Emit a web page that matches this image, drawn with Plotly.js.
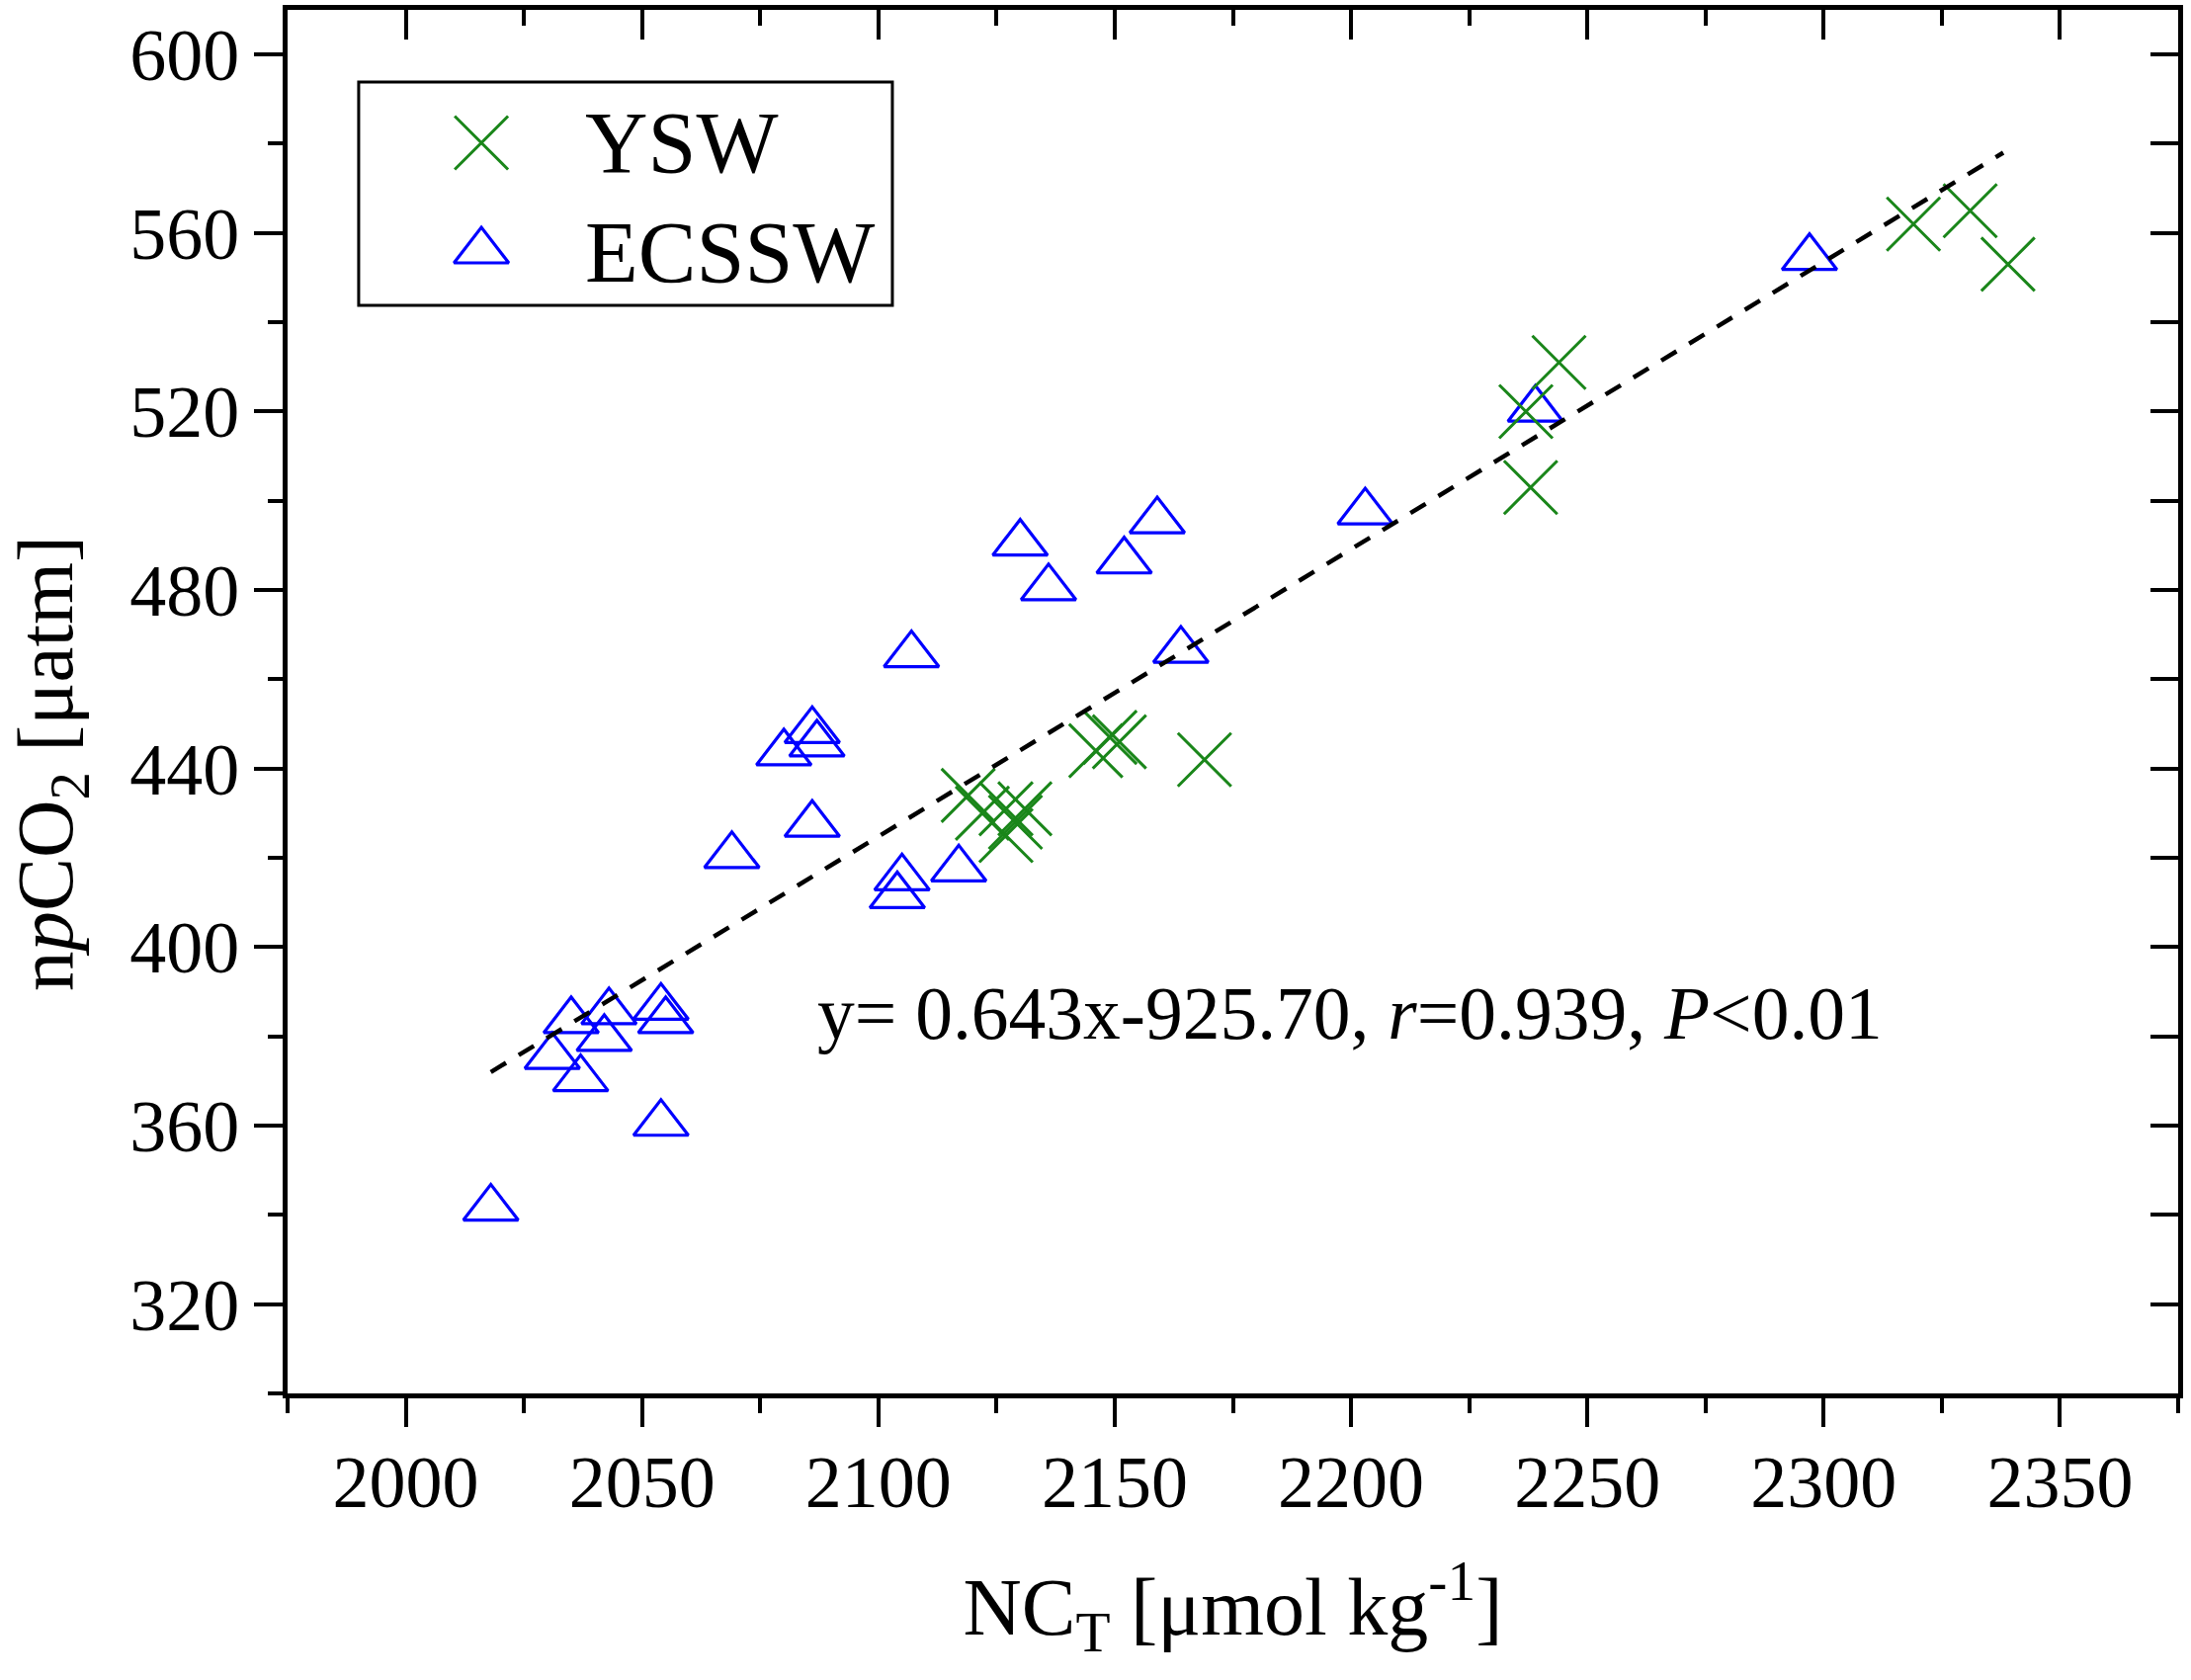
<!DOCTYPE html>
<html>
<head>
<meta charset="utf-8">
<script src="https://cdn.plot.ly/plotly-3.0.1.min.js"></script>
<style>
  html, body { margin: 0; padding: 0; background: #fff; }
  #chart { width: 2217px; height: 1700px; }
</style>
</head>
<body>
<div id="chart"></div>
<script>
// YSW samples (green crosses)
const yswX = [2119, 2122, 2127, 2131, 2127, 2129, 2146, 2149, 2151, 2169, 2237, 2238, 2244, 2319, 2331, 2339];
const yswY = [434, 430, 431, 431, 425, 428, 444, 447, 446, 442, 520, 503, 531, 562, 565, 553];

// ECSSW samples (blue triangles)
const ecsX = [2018, 2031, 2035, 2037, 2042, 2043, 2054, 2054, 2055, 2069, 2080, 2086, 2087, 2086,
              2104, 2105, 2117, 2107, 2130, 2136, 2152, 2159, 2164, 2203, 2239, 2297];
const ecsY = [341.5, 375.5, 383.5, 370.5, 379.5, 385.5, 360.5, 386.5, 383.5, 420.5, 443.5, 448.5, 445.5, 427.5,
              411.5, 415.5, 417.5, 465.5, 490.5, 480.5, 486.5, 495.5, 466.5, 497.5, 520.5, 554.5];

// ends of the dashed regression line
const fitX = [2018, 2338];
const fitY = [372, 578];

const fitLabel = 'y= 0.643x-925.70, <i>r</i>=0.939, <i>P</i>&lt;0.01';
const seriesNames = ['YSW', 'ECSSW'];
const xTitle = 'NC<sub>T</sub> [μmol kg<sup>-1</sup>]';
const yTitle = 'n<i>p</i>CO<sub>2</sub> [μatm]';

const serif = 'Liberation Serif, Times New Roman, serif';
const green = '#1a861a';
const blue = '#0000ff';

const crossMarker = { symbol: 'x-thin-open', size: 54, color: green, line: { color: green, width: 3 } };
const triMarker = { symbol: 'triangle-up-open', size: 48, color: blue, line: { color: blue, width: 3.2 } };

const traces = [
    { x: fitX, y: fitY, xaxis: 'x2', yaxis: 'y2', mode: 'lines', hoverinfo: 'skip',
      line: { color: '#000', width: 4.5, dash: '18px,15px' } },
    { x: ecsX, y: ecsY, mode: 'markers', name: seriesNames[1], marker: triMarker },
    { x: yswX, y: yswY, mode: 'markers', name: seriesNames[0], marker: crossMarker },
    // legend samples, drawn on a hidden 0..1 overlay
    { x: [0.1025], y: [0.9039], xaxis: 'x3', yaxis: 'y3', mode: 'markers', hoverinfo: 'skip', marker: crossMarker },
    { x: [0.1025], y: [0.8257], xaxis: 'x3', yaxis: 'y3', mode: 'markers', hoverinfo: 'skip', marker: triMarker }
];

const axisBase = {
    showgrid: false, zeroline: false, linecolor: '#000', linewidth: 5,
    tickcolor: '#000', tickwidth: 4, tickfont: { family: serif, size: 74, color: '#000' }
};

const layout = {
    width: 2217, height: 1700,
    margin: { l: 291, r: 13, t: 10, b: 290 },
    paper_bgcolor: '#fff', plot_bgcolor: '#fff',
    showlegend: false,
    font: { family: serif, color: '#000' },
    xaxis: Object.assign({}, axisBase, {
        range: [1975, 2375], tick0: 2000, dtick: 50, ticks: 'outside', ticklen: 29,
        showline: true, mirror: true, ticklabelstandoff: -8,
        minor: { ticks: 'outside', dtick: 25, tick0: 1975, ticklen: 15, tickwidth: 4, tickcolor: '#000' },
        title: { text: xTitle, font: { family: serif, size: 82 }, standoff: 58 }
    }),
    yaxis: Object.assign({}, axisBase, {
        range: [300, 610], tick0: 320, dtick: 40, ticks: 'outside', ticklen: 29,
        showline: true, mirror: true,
        minor: { ticks: 'outside', dtick: 20, tick0: 300, ticklen: 15, tickwidth: 4, tickcolor: '#000' }
    }),
    xaxis2: Object.assign({}, axisBase, {
        overlaying: 'x', side: 'top', anchor: 'y2', range: [1975, 2375],
        tick0: 2000, dtick: 50, ticks: 'inside', ticklen: 30, showticklabels: false, showline: false,
        minor: { ticks: 'inside', dtick: 25, tick0: 1975, ticklen: 16, tickwidth: 4, tickcolor: '#000' }
    }),
    yaxis2: Object.assign({}, axisBase, {
        overlaying: 'y', side: 'right', anchor: 'x2', range: [300, 610],
        tick0: 300, dtick: 20, ticks: 'inside', ticklen: 28, showticklabels: false, showline: false
    }),
    xaxis3: { overlaying: 'x', anchor: 'y3', range: [0, 1], visible: false },
    yaxis3: { overlaying: 'y', anchor: 'x3', range: [0, 1], visible: false },
    shapes: [
        { type: 'rect', xref: 'paper', yref: 'paper', x0: 0.0376, x1: 0.3199, y0: 0.7864, y1: 0.9479,
          line: { color: '#000', width: 3 }, fillcolor: 'rgba(0,0,0,0)' }
    ],
    annotations: [
        // y axis title, set a little below the plot centre as in the original
        { xref: 'paper', yref: 'paper', x: -0.1255, y: 0.4557, xanchor: 'center', yanchor: 'middle',
          textangle: -90, text: yTitle, showarrow: false, font: { family: serif, size: 81 } },
        { xref: 'paper', yref: 'paper', x: 0.1563, y: 0.9039, xanchor: 'left', yanchor: 'middle',
          text: seriesNames[0], showarrow: false, font: { family: serif, size: 88 } },
        { xref: 'paper', yref: 'paper', x: 0.1563, y: 0.8244, xanchor: 'left', yanchor: 'middle',
          text: seriesNames[1], showarrow: false, font: { family: serif, size: 88 } },
        { xref: 'paper', yref: 'paper', x: 0.2791, y: 0.2743, xanchor: 'left', yanchor: 'middle',
          text: fitLabel, showarrow: false, font: { family: serif, size: 75.5 } }
    ]
};

Plotly.newPlot('chart', traces, layout, { staticPlot: true });
</script>
</body>
</html>
